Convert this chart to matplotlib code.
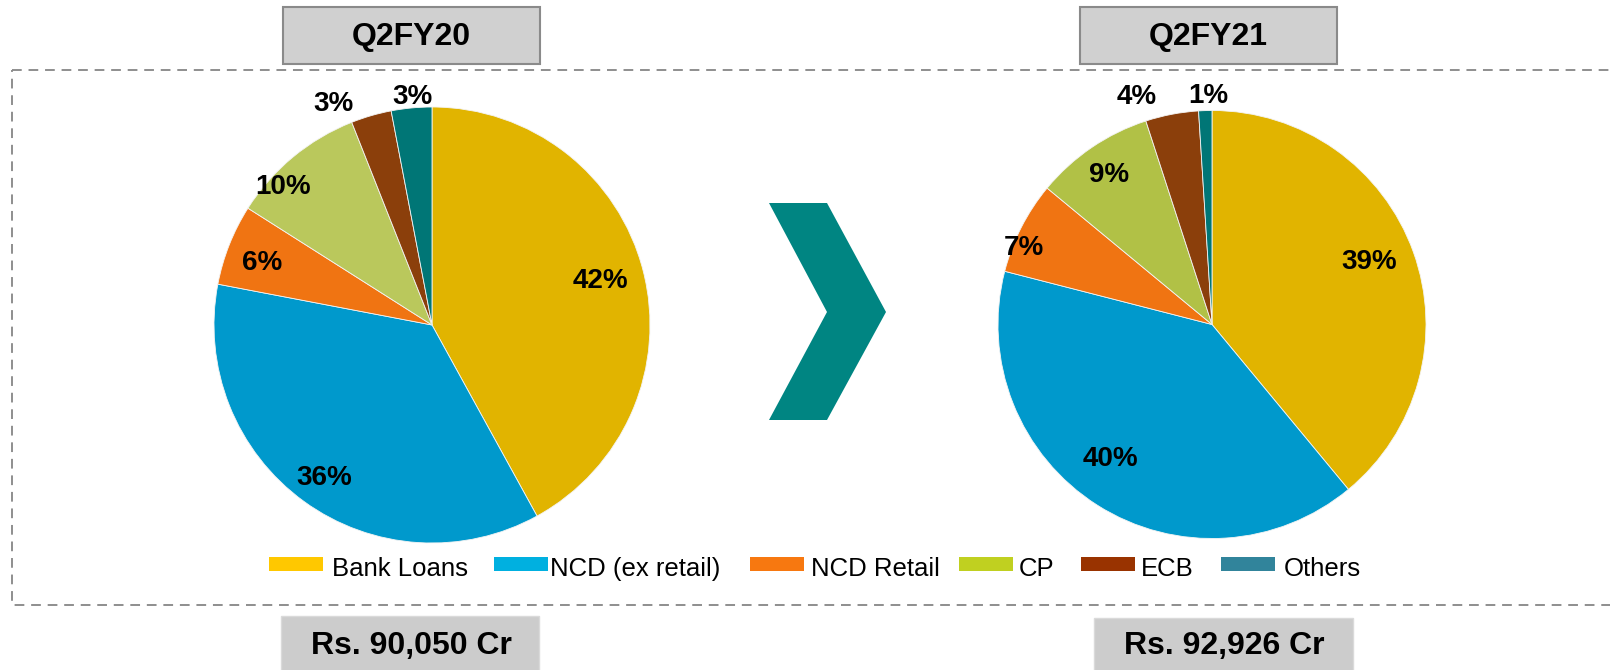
import numpy as np
import matplotlib
matplotlib.use("Agg")
import matplotlib.pyplot as plt
from matplotlib.patches import Rectangle, Polygon

plt.rcParams["font.family"] = ["Liberation Sans", "DejaVu Sans"]

# Borrowing mix (% of total borrowings)
categories = ["Bank Loans", "NCD (ex retail)", "NCD Retail", "CP", "ECB", "Others"]
q2fy20_share = [42, 36, 6, 10, 3, 3]
q2fy21_share = [39, 40, 7, 9, 4, 1]
period_labels = ["Q2FY20", "Q2FY21"]
total_labels = ["Rs. 90,050 Cr", "Rs. 92,926 Cr"]

# Colours
pie_colors_20 = ["#E1B400", "#0099CC", "#F07412", "#BAC85C", "#8B3F0B", "#007676"]
pie_colors_21 = ["#E1B400", "#0099CC", "#F07412", "#B1C146", "#8B3F0B", "#007676"]
legend_colors = ["#FFC800", "#00B0E0", "#F77810", "#C0D020", "#993300", "#31849B"]

W, H = 1610, 670
fig = plt.figure(figsize=(W / 100, H / 100), dpi=100)

# Pixel-space canvas for boxes, frame, chevron and legend
bg = fig.add_axes([0, 0, 1, 1], zorder=0)
bg.set_xlim(0, W)
bg.set_ylim(H, 0)
bg.axis("off")

# Dashed frame around the pies
bg.add_patch(Rectangle((12, 70), W + 20, 535, fill=False, edgecolor="#8E8E8E",
                       linewidth=1.4, linestyle=(0, (5, 3.5))))

# Period header boxes and total boxes
for (x0, x1), txt in zip([(283, 540), (1080, 1337)], period_labels):
    bg.add_patch(Rectangle((x0, 7), x1 - x0, 57, facecolor="#D0D0D0",
                           edgecolor="#8A8A8A", linewidth=1.5))
    bg.text((x0 + x1) / 2, 37, txt, ha="center", va="center",
            fontsize=23, fontweight="bold", color="black")

for (x0, x1, y0), txt in zip([(281, 539, 616), (1094, 1353, 618)], total_labels):
    bg.add_patch(Rectangle((x0, y0), x1 - x0, H - y0 + 5, facecolor="#CCCCCC",
                           edgecolor="#DADADA", linewidth=1.0))
    bg.text((x0 + x1) / 2 + 1, 646, txt, ha="center", va="center",
            fontsize=23, fontweight="bold", color="black")

# Chevron arrow between the two periods
bg.add_patch(Polygon([(769, 203), (827, 203), (886, 312), (827, 420),
                      (769, 420), (827, 312)], closed=True,
                     facecolor="#008582", edgecolor="none"))

# Legend row
patch_x = [269, 494, 750, 959, 1081, 1221]
text_x = [332, 550, 811, 1019, 1141, 1284]
for px, tx, col, name in zip(patch_x, text_x, legend_colors, categories):
    bg.add_patch(Rectangle((px, 557), 54, 14, facecolor=col, edgecolor="none"))
    bg.text(tx, 576, name, ha="left", va="baseline", fontsize=18.5, color="black")


def draw_pie(cx, cy, r, values, colors, radial, shift):
    ax = fig.add_axes([(cx - r) / W, (H - cy - r) / H, 2 * r / W, 2 * r / H], zorder=2)
    ax.patch.set_alpha(0)
    wedges, _ = ax.pie(values, colors=colors, startangle=90, counterclock=False,
                       wedgeprops=dict(edgecolor="#F4F4F4", linewidth=0.6))
    ax.set_xlim(-1, 1)
    ax.set_ylim(-1, 1)
    ax.axis("off")
    for w, v, f, d in zip(wedges, values, radial, shift):
        mid_cw = 90 - (w.theta1 + w.theta2) / 2  # clockwise from 12 o'clock
        ang = np.deg2rad(90 - (mid_cw + d))
        ax.text(f * np.cos(ang), f * np.sin(ang), f"{v}%", ha="center",
                va="center", fontsize=20, fontweight="bold", color="black")
    return ax


draw_pie(432, 325, 218, q2fy20_share, pie_colors_20,
         radial=[0.80, 0.86, 0.83, 0.93, 1.11, 1.05],
         shift=[-0.3, -0.8, -1.6, -7.5, -7.9, 0.6])
draw_pie(1212, 324.5, 214, q2fy21_share, pie_colors_21,
         radial=[0.79, 0.79, 0.95, 0.85, 1.12, 1.07],
         shift=[-1.9, 4.7, -4.8, -0.4, -7.4, 0.9])

fig.savefig("out.png", dpi=100, facecolor="white")
